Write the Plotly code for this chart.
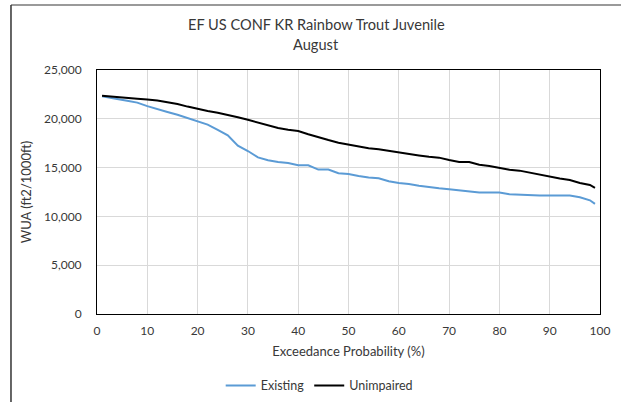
import plotly.graph_objects as go

# Exceedance probability (%) and weighted usable area (ft2/1000ft)
exceedance = [1, 2, 4, 6, 8, 10, 12, 14, 16, 18, 20, 22, 24, 26, 28, 30, 32, 34, 36, 38, 40,
              42, 44, 46, 48, 50, 52, 54, 56, 58, 60, 62, 64, 66, 68, 70, 72, 74, 76, 78, 80,
              82, 84, 86, 88, 90, 92, 94, 96, 98, 99]

existing = [22300, 22230, 22040, 21850, 21660, 21300, 20960, 20700, 20420, 20080, 19730,
            19400, 18870, 18300, 17250, 16700, 16050, 15750, 15580, 15470, 15240,
            15240, 14800, 14800, 14420, 14350, 14150, 13980, 13900, 13600, 13430,
            13330, 13150, 12990, 12880, 12780, 12680, 12530, 12440, 12440, 12440,
            12270, 12200, 12130, 12130, 12130, 12130, 12130, 11960, 11650, 11280]

unimpaired = [22350, 22300, 22200, 22120, 22050, 21980, 21880, 21700, 21520, 21250, 21000,
              20800, 20620, 20420, 20150, 19900, 19600, 19280, 19050, 18880, 18750,
              18420, 18100, 17820, 17550, 17350, 17150, 16980, 16870, 16700, 16530,
              16430, 16250, 16100, 16020, 15780, 15580, 15580, 15300, 15170, 14950,
              14790, 14690, 14480, 14280, 14040, 13880, 13730, 13430, 13220, 12920]

title_lines = ["EF US CONF KR Rainbow Trout Juvenile", "August"]

font_family = "Lato"
text_color = "#383838"
grid_color = "#d9d9d9"

fig = go.Figure()
fig.add_trace(go.Scatter(x=exceedance, y=existing, mode="lines", name="Existing",
                         line=dict(color="#5B9BD5", width=2)))
fig.add_trace(go.Scatter(x=exceedance, y=unimpaired, mode="lines", name="Unimpaired",
                         line=dict(color="black", width=2)))

axis_common = dict(
    showgrid=True,
    gridcolor=grid_color,
    gridwidth=1.3,
    zeroline=False,
    showline=True,
    linecolor="black",
    linewidth=1,
    mirror=True,
    ticks="",
    automargin=False,
    tickfont=dict(family=font_family, size=12, color=text_color),
)

fig.update_layout(
    width=621,
    height=402,
    margin=dict(l=97, r=21, t=70, b=88, pad=0),
    paper_bgcolor="white",
    plot_bgcolor="white",
    font=dict(family=font_family, size=12, color=text_color),
    xaxis=dict(
        **axis_common,
        range=[0, 100],
        dtick=10,
        ticklabelstandoff=6,
        title=dict(text="Exceedance Probability (%)", standoff=9,
                   font=dict(family=font_family, size=13, color=text_color)),
    ),
    yaxis=dict(
        **axis_common,
        range=[0, 25000],
        dtick=5000,
        tickformat=",",
        ticklabelstandoff=12,
        title=dict(text="WUA (ft2/1000ft)", standoff=9,
                   font=dict(family=font_family, size=13, color=text_color)),
    ),
    legend=dict(
        orientation="h",
        xref="container",
        yref="container",
        x=0.514,
        xanchor="center",
        y=0.04,
        yanchor="middle",
        font=dict(family=font_family, size=12.5, color=text_color),
        bgcolor="rgba(0,0,0,0)",
    ),
    showlegend=True,
)

# two-line chart title, centred on the chart area
for text, ypos in zip(title_lines, [1.186, 1.105]):
    fig.add_annotation(text=text, x=0.436, y=ypos, xref="paper", yref="paper",
                       xanchor="center", yanchor="middle", showarrow=False,
                       font=dict(family=font_family, size=14.6, color=text_color))

# chart-area border (top and left edges visible in the crop)
fig.add_shape(type="line", xref="paper", yref="paper", x0=-0.171, x1=1.1, y0=1.266, y1=1.266,
              line=dict(color="#9a9a9a", width=2))
fig.add_shape(type="line", xref="paper", yref="paper", x0=-0.171, x1=-0.171, y0=1.266, y1=-0.5,
              line=dict(color="#333333", width=1.5))

# drop the default page margin so the figure sits at the window origin
fig.write_html("out.html", config={"displayModeBar": False},
               post_script="document.body.style.margin = '0';")
